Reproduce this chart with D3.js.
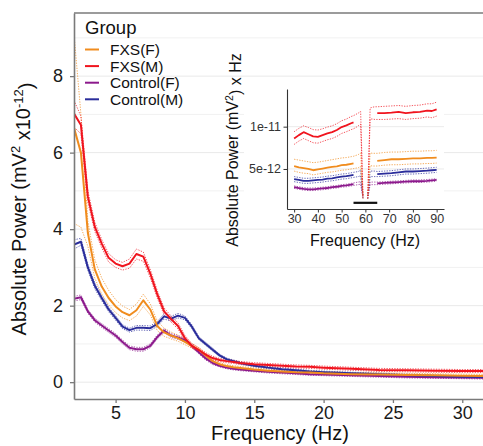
<!DOCTYPE html>
<html>
<head>
<meta charset="utf-8">
<script src="https://cdn.jsdelivr.net/npm/d3@7"></script>
<style>
  body { margin: 0; background: #fff; }
  svg { display: block; font-family: "Liberation Sans", Arial, sans-serif; }
</style>
</head>
<body>
<svg id="chart" width="483" height="446"></svg>
<script>
// groups, in legend order
const groups = ["FXS(F)", "FXS(M)", "Control(F)", "Control(M)"];
const groupColors = ["#F08C1E", "#F0141E", "#8C198C", "#2A2D9B"];

// ---- main spectrum (units of 1e-12 mV^2) ----
const freq = [2,2.5,3,3.5,4,4.5,5,5.5,6,6.5,7,7.5,8,8.5,9,9.5,10,10.5,11,11.5,12,12.5,13,13.5,14,15,16,17,18,19,20,22,24,26,28,30,32];

const fxsFMean = [6.65,6.0,3.9,2.95,2.5,2.2,1.98,1.83,1.75,1.88,2.14,1.9,1.47,1.3,1.22,1.15,1.05,0.95,0.85,0.7,0.55,0.47,0.42,0.39,0.37,0.33,0.3,0.28,0.26,0.25,0.23,0.21,0.2,0.19,0.18,0.17,0.16];
const fxsFHi   = [9.1,7.0,4.2,3.2,2.72,2.4,2.16,1.99,1.9,2.04,2.3,2.05,1.6,1.41,1.31,1.23,1.12,1.01,0.9,0.75,0.6,0.51,0.46,0.43,0.41,0.37,0.34,0.32,0.3,0.29,0.27,0.25,0.24,0.23,0.22,0.21,0.2];
const fxsFLo   = [4.15,4.05,3.55,2.72,2.3,2.02,1.82,1.68,1.61,1.73,1.98,1.76,1.35,1.2,1.13,1.07,0.98,0.89,0.8,0.65,0.5,0.43,0.38,0.35,0.33,0.29,0.26,0.24,0.22,0.21,0.19,0.17,0.16,0.15,0.14,0.13,0.12];

const fxsMMean = [7.02,6.72,4.85,4.06,3.62,3.25,3.1,3.03,3.1,3.35,3.28,2.84,2.3,1.85,1.65,1.47,1.15,0.95,0.84,0.72,0.63,0.58,0.55,0.53,0.5,0.47,0.45,0.43,0.41,0.4,0.38,0.35,0.32,0.31,0.3,0.29,0.29];
const fxsMHi   = [7.37,6.95,5.0,4.18,3.73,3.36,3.2,3.13,3.22,3.48,3.4,2.95,2.4,1.94,1.73,1.55,1.22,1.01,0.9,0.77,0.68,0.62,0.59,0.57,0.54,0.51,0.49,0.47,0.45,0.44,0.42,0.39,0.36,0.35,0.34,0.33,0.33];
const fxsMLo   = [6.67,6.49,4.7,3.94,3.51,3.14,3.0,2.93,2.98,3.22,3.16,2.73,2.2,1.76,1.57,1.39,1.08,0.89,0.78,0.67,0.58,0.54,0.51,0.49,0.46,0.43,0.41,0.39,0.37,0.36,0.34,0.31,0.28,0.27,0.26,0.25,0.25];

const ctlFMean = [2.18,2.22,1.85,1.62,1.48,1.35,1.22,1.05,0.9,0.86,0.86,0.95,1.18,1.35,1.22,1.17,1.1,0.95,0.78,0.62,0.5,0.43,0.38,0.35,0.33,0.3,0.27,0.25,0.23,0.21,0.2,0.18,0.16,0.14,0.13,0.12,0.11];
const ctlFHi   = [2.24,2.28,1.9,1.67,1.53,1.4,1.27,1.1,0.95,0.91,0.91,1.0,1.23,1.4,1.27,1.22,1.14,0.99,0.82,0.66,0.54,0.46,0.41,0.38,0.36,0.33,0.3,0.28,0.26,0.24,0.23,0.21,0.19,0.17,0.16,0.15,0.14];
const ctlFLo   = [2.12,2.16,1.8,1.57,1.43,1.3,1.17,1.0,0.85,0.81,0.81,0.9,1.13,1.3,1.17,1.12,1.06,0.91,0.74,0.58,0.46,0.4,0.35,0.32,0.3,0.27,0.24,0.22,0.2,0.18,0.17,0.15,0.13,0.11,0.1,0.09,0.08];

const ctlMMean = [3.6,3.67,3.0,2.52,2.2,1.9,1.68,1.45,1.36,1.42,1.42,1.41,1.52,1.72,1.66,1.74,1.68,1.45,1.15,1.0,0.85,0.7,0.6,0.55,0.5,0.43,0.38,0.34,0.31,0.28,0.26,0.23,0.21,0.18,0.16,0.14,0.13];
const ctlMHi   = [3.72,3.76,3.08,2.6,2.27,1.96,1.74,1.5,1.41,1.48,1.48,1.47,1.58,1.79,1.72,1.8,1.73,1.5,1.19,1.04,0.89,0.73,0.63,0.58,0.53,0.46,0.41,0.37,0.34,0.31,0.29,0.26,0.24,0.21,0.19,0.17,0.16];
const ctlMLo   = [3.48,3.58,2.92,2.44,2.13,1.84,1.62,1.4,1.31,1.36,1.36,1.35,1.46,1.65,1.6,1.68,1.63,1.4,1.11,0.96,0.81,0.67,0.57,0.52,0.47,0.4,0.35,0.31,0.28,0.25,0.23,0.2,0.18,0.15,0.13,0.11,0.1];

const xTicks = [5, 10, 15, 20, 25, 30];
const yTicks = [0, 2, 4, 6, 8];
const yMinor = [1, 3, 5, 7, 9];

// ---- inset: 30-90 Hz, power x Hz (units of 1e-12) ----
const insetFreq = [30,32,34,36,38,40,42,44,46,48,50,52,54,55,56,57,58,59,60,61,62,63,64,65,68,71,74,77,80,83,86,88,90];
const _ = null;

const inFxsFMean = [5.35,5.2,5.1,5.0,4.85,4.95,5.05,5.15,5.25,5.3,5.45,5.5,5.6,5.65,_,_,_,_,_,_,_,_,_,5.95,6.05,6.15,6.15,6.2,6.25,6.25,6.3,6.3,6.35];
const inFxsFHi   = [6.15,6.05,5.95,5.85,5.75,5.8,5.9,6.0,6.1,6.2,6.3,6.35,6.45,6.5,6.6,6.7,6.9,1.8,_,1.8,6.9,6.85,6.85,6.85,6.95,7.0,7.0,7.05,7.1,7.1,7.15,7.15,7.2];
const inFxsFLo   = [4.75,4.6,4.5,4.45,4.3,4.4,4.5,4.6,4.65,4.75,4.85,4.9,5.0,5.05,5.1,5.15,5.3,1.5,_,1.5,5.4,5.35,5.35,5.35,5.45,5.5,5.5,5.55,5.6,5.6,5.65,5.65,5.7];

const inFxsMMean = [8.6,9.0,9.35,9.1,8.85,8.8,9.0,9.2,9.35,9.6,9.95,10.15,10.4,10.5,_,_,_,_,_,_,_,_,_,11.6,11.6,11.65,11.75,11.6,11.7,11.75,11.9,11.85,12.05];
const inFxsMHi   = [9.4,9.8,10.1,9.9,9.65,9.6,9.75,9.95,10.1,10.35,10.7,10.9,11.2,11.3,11.45,11.6,11.8,1.8,_,1.8,12.2,12.3,12.35,12.35,12.4,12.45,12.5,12.4,12.5,12.55,12.7,12.7,12.9];
const inFxsMLo   = [7.9,8.3,8.6,8.35,8.1,8.05,8.25,8.45,8.6,8.85,9.2,9.4,9.65,9.75,9.9,10.1,10.3,1.5,_,1.5,10.9,10.9,10.85,10.85,10.85,10.9,10.95,10.85,10.95,11.0,11.15,11.05,11.25];

const inCtlFMean = [2.85,2.75,2.65,2.6,2.6,2.65,2.7,2.75,2.85,2.9,3.0,3.05,3.15,3.2,_,_,_,_,_,_,_,_,_,3.3,3.35,3.4,3.45,3.5,3.55,3.55,3.6,3.65,3.7];
const inCtlFHi   = [3.0,2.9,2.8,2.75,2.75,2.8,2.85,2.9,3.0,3.05,3.15,3.2,3.3,3.35,3.4,3.45,3.5,1.8,_,1.8,3.45,3.45,3.45,3.45,3.5,3.55,3.6,3.65,3.7,3.7,3.75,3.8,3.85];
const inCtlFLo   = [2.7,2.6,2.5,2.45,2.45,2.5,2.55,2.6,2.7,2.75,2.85,2.9,3.0,3.05,3.1,3.15,3.2,1.5,_,1.5,3.15,3.15,3.15,3.15,3.2,3.25,3.3,3.35,3.4,3.4,3.45,3.5,3.55];

const inCtlMMean = [3.8,3.7,3.6,3.6,3.65,3.7,3.75,3.85,3.9,4.0,4.1,4.15,4.25,4.3,_,_,_,_,_,_,_,_,_,4.4,4.45,4.5,4.6,4.7,4.7,4.75,4.8,4.85,4.9];
const inCtlMHi   = [4.1,4.0,3.9,3.9,3.95,4.0,4.05,4.15,4.2,4.3,4.4,4.45,4.55,4.6,4.65,4.7,4.85,1.8,_,1.8,4.75,4.75,4.75,4.7,4.75,4.8,4.9,5.0,5.0,5.05,5.1,5.15,5.2];
const inCtlMLo   = [3.5,3.4,3.3,3.3,3.35,3.4,3.45,3.55,3.6,3.7,3.8,3.85,3.95,4.0,4.05,4.1,4.2,1.5,_,1.5,4.1,4.1,4.1,4.1,4.15,4.2,4.3,4.4,4.4,4.45,4.5,4.55,4.6];

const insetXTicks = [30, 40, 50, 60, 70, 80, 90];
const insetYTicks = [5, 10];
const insetYLabels = ["5e-12", "1e-11"];
const notchBand = [55, 65];

// -------------------------------------------------
const mainSeries = [
  { mean: fxsFMean, hi: fxsFHi, lo: fxsFLo },
  { mean: fxsMMean, hi: fxsMHi, lo: fxsMLo },
  { mean: ctlFMean, hi: ctlFHi, lo: ctlFLo },
  { mean: ctlMMean, hi: ctlMHi, lo: ctlMLo }
];
const insetSeries = [
  { mean: inFxsFMean, hi: inFxsFHi, lo: inFxsFLo },
  { mean: inFxsMMean, hi: inFxsMHi, lo: inFxsMLo },
  { mean: inCtlFMean, hi: inCtlFHi, lo: inCtlFLo },
  { mean: inCtlMMean, hi: inCtlMHi, lo: inCtlMLo }
];
const drawOrder = [2, 3, 0, 1]; // purple, navy, orange, red on top

const svg = d3.select("#chart");
const W = 483, H = 446;
const plot = { left: 74, right: 483, top: 13, bottom: 399 };

const x = d3.scaleLinear().domain([2, 32]).range([74, 490]);
const y = d3.scaleLinear().domain([-0.44, 9.65]).range([plot.bottom, plot.top]);

svg.append("rect").attr("width", W).attr("height", H).attr("fill", "#fff");

svg.append("defs").append("clipPath").attr("id", "clip")
  .append("rect")
  .attr("x", plot.left).attr("y", plot.top)
  .attr("width", plot.right - plot.left).attr("height", plot.bottom - plot.top);

// gridlines (horizontal only)
svg.append("g").selectAll("line.minor")
  .data(yMinor).enter().append("line")
  .attr("x1", plot.left).attr("x2", plot.right)
  .attr("y1", d => y(d)).attr("y2", d => y(d))
  .attr("stroke", "#f1f1f1").attr("stroke-width", 1);
svg.append("g").selectAll("line.major")
  .data(yTicks).enter().append("line")
  .attr("x1", plot.left).attr("x2", plot.right)
  .attr("y1", d => y(d)).attr("y2", d => y(d))
  .attr("stroke", "#e9e9e9").attr("stroke-width", 1);

// top border line
svg.append("line")
  .attr("x1", plot.left).attr("x2", plot.right)
  .attr("y1", plot.top).attr("y2", plot.top)
  .attr("stroke", "#7a7a7a").attr("stroke-width", 1.6);

// series
const lineMain = key => d3.line()
  .defined(d => d[key] != null)
  .x(d => x(d.f)).y(d => y(d[key]));

const series = svg.append("g").attr("clip-path", "url(#clip)");
drawOrder.forEach(i => {
  const s = mainSeries[i];
  const rows = freq.map((f, j) => ({ f, mean: s.mean[j], hi: s.hi[j], lo: s.lo[j] }));
  ["hi", "lo"].forEach(k => {
    series.append("path").datum(rows)
      .attr("d", lineMain(k))
      .attr("fill", "none")
      .attr("stroke", groupColors[i])
      .attr("stroke-width", 0.9)
      .attr("stroke-dasharray", "1.3,1.3")
      .attr("opacity", 0.8);
  });
});
drawOrder.forEach(i => {
  const s = mainSeries[i];
  const rows = freq.map((f, j) => ({ f, mean: s.mean[j] }));
  series.append("path").datum(rows)
    .attr("d", lineMain("mean"))
    .attr("fill", "none")
    .attr("stroke", groupColors[i])
    .attr("stroke-width", 2)
    .attr("stroke-linejoin", "round");
});

// axes
const axisColor = "#7a7a7a";
const xAxis = svg.append("g")
  .attr("transform", `translate(0,${plot.bottom})`)
  .call(d3.axisBottom(x).tickValues(xTicks).tickSize(4).tickSizeOuter(0).tickPadding(3));
const yAxis = svg.append("g")
  .attr("transform", `translate(${plot.left},0)`)
  .call(d3.axisLeft(y).tickValues(yTicks).tickSize(4).tickSizeOuter(0).tickPadding(7));
[xAxis, yAxis].forEach(a => {
  a.select(".domain").attr("stroke", axisColor).attr("stroke-width", 1.6);
  a.selectAll(".tick line").attr("stroke", axisColor).attr("stroke-width", 1.3);
  a.selectAll(".tick text")
    .attr("fill", "#1a1a1a")
    .style("font-size", "18px")
    .style("font-family", "Liberation Sans, Arial, sans-serif");
});

// axis titles
svg.append("text")
  .attr("x", 280).attr("y", 440)
  .attr("text-anchor", "middle")
  .style("font-size", "20px")
  .attr("fill", "#111")
  .text("Frequency (Hz)");

const yTitle = svg.append("text")
  .attr("transform", "translate(26,209) rotate(-90)")
  .attr("text-anchor", "middle")
  .style("font-size", "20px")
  .attr("fill", "#111");
yTitle.append("tspan").text("Absolute Power (mV");
yTitle.append("tspan").attr("dy", "-0.5em").style("font-size", "13px").text("2");
yTitle.append("tspan").attr("dy", "0.5em").text(" x10");
yTitle.append("tspan").attr("dy", "-0.5em").style("font-size", "13px").text("-12");
yTitle.append("tspan").attr("dy", "0.5em").text(")");

// legend
const legend = svg.append("g");
legend.append("text")
  .attr("x", 85).attr("y", 34)
  .style("font-size", "18.5px")
  .attr("fill", "#111")
  .text("Group");
const legendRows = legend.selectAll("g.item")
  .data(groups).enter().append("g")
  .attr("transform", (d, i) => `translate(0,${49.5 + i * 16.6})`);
legendRows.append("line")
  .attr("x1", 85).attr("x2", 99).attr("y1", 0).attr("y2", 0)
  .attr("stroke", (d, i) => groupColors[i]).attr("stroke-width", 2);
legendRows.append("text")
  .attr("x", 110).attr("y", 5.5)
  .style("font-size", "15.5px")
  .attr("fill", "#111")
  .text(d => d);

// ---- inset ----
const ix = d3.scaleLinear().domain([27, 93.1]).range([287, 444]);
const iy = d3.scaleLinear().domain([0.27, 14.45]).range([209, 89]);
const inset = svg.append("g");

inset.append("rect")
  .attr("x", 244).attr("y", 84).attr("width", 200).attr("height", 142)
  .attr("fill", "#fff");

inset.selectAll("line.igrid")
  .data(insetYTicks).enter().append("line")
  .attr("x1", 287).attr("x2", 444)
  .attr("y1", d => iy(d)).attr("y2", d => iy(d))
  .attr("stroke", "#ebebeb").attr("stroke-width", 1);

const lineInset = key => d3.line()
  .defined(d => d[key] != null)
  .x(d => ix(d.f)).y(d => iy(d[key]));

drawOrder.forEach(i => {
  const s = insetSeries[i];
  const rows = insetFreq.map((f, j) => ({ f, mean: s.mean[j], hi: s.hi[j], lo: s.lo[j] }));
  ["hi", "lo"].forEach(k => {
    inset.append("path").datum(rows)
      .attr("d", lineInset(k))
      .attr("fill", "none")
      .attr("stroke", groupColors[i])
      .attr("stroke-width", 0.9)
      .attr("stroke-dasharray", "1.3,1.3")
      .attr("opacity", 0.8);
  });
});
drawOrder.forEach(i => {
  const s = insetSeries[i];
  const rows = insetFreq.map((f, j) => ({ f, mean: s.mean[j] }));
  inset.append("path").datum(rows)
    .attr("d", lineInset("mean"))
    .attr("fill", "none")
    .attr("stroke", groupColors[i])
    .attr("stroke-width", 1.8)
    .attr("stroke-linejoin", "round");
});

// notch bar
inset.append("line")
  .attr("x1", ix(notchBand[0])).attr("x2", ix(notchBand[1]))
  .attr("y1", iy(1.0)).attr("y2", iy(1.0))
  .attr("stroke", "#111").attr("stroke-width", 2.2);

const ixAxis = inset.append("g")
  .attr("transform", "translate(0,209)")
  .call(d3.axisBottom(ix).tickValues(insetXTicks).tickSize(3.5).tickSizeOuter(0).tickPadding(2));
const iyAxis = inset.append("g")
  .attr("transform", "translate(287,0)")
  .call(d3.axisLeft(iy).tickValues(insetYTicks).tickFormat((d, i) => insetYLabels[i])
    .tickSize(3.5).tickSizeOuter(0).tickPadding(2.5));
[ixAxis, iyAxis].forEach(a => {
  a.select(".domain").attr("stroke", "#333").attr("stroke-width", 1.1);
  a.selectAll(".tick line").attr("stroke", "#333").attr("stroke-width", 1);
  a.selectAll(".tick text")
    .attr("fill", "#333")
    .style("font-size", "12.5px")
    .style("font-family", "Liberation Sans, Arial, sans-serif");
});

inset.append("text")
  .attr("x", 365).attr("y", 246)
  .attr("text-anchor", "middle")
  .style("font-size", "16px")
  .attr("fill", "#111")
  .text("Frequency (Hz)");

const iyTitle = inset.append("text")
  .attr("transform", "translate(238,150) rotate(-90)")
  .attr("text-anchor", "middle")
  .style("font-size", "16px")
  .attr("fill", "#111");
iyTitle.append("tspan").text("Absolute Power (mV");
iyTitle.append("tspan").attr("dy", "-0.5em").style("font-size", "10.5px").text("2");
iyTitle.append("tspan").attr("dy", "0.5em").text(") x Hz");
</script>
</body>
</html>
